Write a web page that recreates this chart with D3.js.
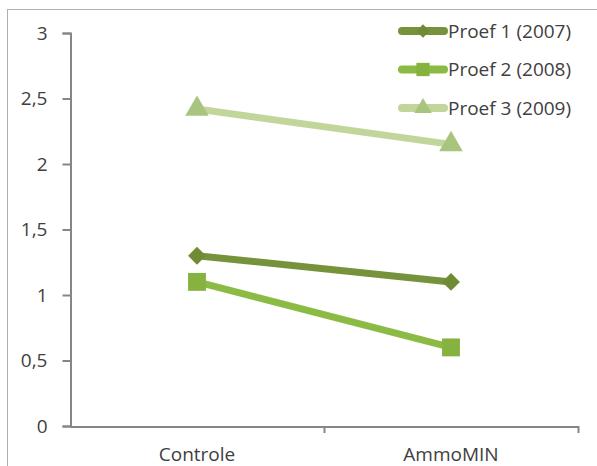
<!DOCTYPE html>
<html lang="nl">
    <head>
        <meta charset="utf-8">
        <title>Proeven Controle vs AmmoMIN</title>
        <script src="https://d3js.org/d3.v7.min.js"></script>
        <style type="text/css">
        body { margin: 0; background: #fff; }
        text { font-family: "Open Sans", sans-serif; fill: #404040; }
        </style>
    </head>
    <body>
        <script type="text/javascript">

//1. data
const categories = ["Controle", "AmmoMIN"];
const seriesNames = ["Proef 1 (2007)", "Proef 2 (2008)", "Proef 3 (2009)"];
const proef1 = [1.3, 1.1];
const proef2 = [1.1, 0.6];
const proef3 = [2.42, 2.15];
const yTicks = [0, 0.5, 1, 1.5, 2, 2.5, 3];
const yTickLabels = ["0", "0,5", "1", "1,5", "2", "2,5", "3"];

//2. consts
const svgWidth = 597;
const svgHeight = 466;
const plotLeft = 70, plotRight = 578, plotTop = 33, plotBottom = 426;
const fontSize = "19px";

const colors = ["#76923b", "#8cbb45", "#c2d69b"];
const markerColors = ["#6f8c35", "#86b33f", "#a9c47f"];
// diamond = square turned 45 degrees
const shapes = [d3.symbolSquare, d3.symbolSquare, d3.symbolTriangle];
const rotations = [45, 0, 0];
const shapeSizes = [160, 320, 240];

const series = seriesNames.map((name, i) => ({
    name: name,
    values: [proef1, proef2, proef3][i].map((v, j) => ({cat: categories[j], value: v})),
    color: colors[i],
    marker: markerColors[i],
    shape: shapes[i],
    rot: rotations[i],
    size: shapeSizes[i]
}));

//3. scales
const xScale = d3.scaleBand()
    .domain(categories)
    .range([plotLeft, plotRight]);

const yScale = d3.scaleLinear()
    .domain([0, 3])
    .range([plotBottom, plotTop]);

//4. svg
const svg = d3.select("body")
    .append("svg")
    .attr("width", svgWidth)
    .attr("height", svgHeight);

// outer frame (only top and left visible)
svg.append("rect")
    .attr("x", 7.5)
    .attr("y", 9.5)
    .attr("width", svgWidth + 20)
    .attr("height", svgHeight + 20)
    .attr("fill", "none")
    .attr("stroke", "#b0b0b0");

//5. axes
const leftAxis = d3.axisLeft(yScale)
    .tickValues(yTicks)
    .tickFormat((d, i) => yTickLabels[i])
    .tickSize(8)
    .tickPadding(15);

const yG = svg.append("g")
    .attr("transform", "translate(" + (plotLeft + 0.5) + ",0)")
    .call(leftAxis);

const bottomAxis = d3.axisBottom(xScale)
    .tickSize(0)
    .tickPadding(19);

const xG = svg.append("g")
    .attr("transform", "translate(0," + (plotBottom + 0.5) + ")")
    .call(bottomAxis);

// category boundary ticks
svg.append("g")
    .selectAll("line")
    .data(categories.map(c => xScale(c) + xScale.bandwidth()))
    .enter()
    .append("line")
    .attr("x1", d => Math.round(d) + 0.5)
    .attr("x2", d => Math.round(d) + 0.5)
    .attr("y1", plotBottom)
    .attr("y2", plotBottom + 7)
    .attr("stroke", "#868686")
    .attr("stroke-width", 2);

[yG, xG].forEach(g => {
    g.select(".domain").attr("stroke", "#868686").attr("stroke-width", 2);
    g.selectAll(".tick line").attr("stroke", "#868686").attr("stroke-width", 2);
    g.selectAll(".tick text")
        .attr("font-size", fontSize)
        .attr("font-family", "Open Sans, sans-serif")
        .attr("fill", "#404040");
});
xG.selectAll(".tick text").attr("dy", "0.8em");

//6. lines and markers
const line = d3.line()
    .x(d => xScale(d.cat) + xScale.bandwidth() / 2)
    .y(d => yScale(d.value));

const sg = svg.selectAll("g.series")
    .data(series)
    .enter()
    .append("g")
    .attr("class", "series");

sg.append("path")
    .attr("d", d => line(d.values))
    .attr("fill", "none")
    .attr("stroke", d => d.color)
    .attr("stroke-width", 7);

sg.each(function(s) {
    d3.select(this).selectAll("path.marker")
        .data(s.values)
        .enter()
        .append("path")
        .attr("class", "marker")
        .attr("transform", d => "translate(" + (xScale(d.cat) + xScale.bandwidth() / 2) + "," + yScale(d.value) + ") rotate(" + s.rot + ")")
        .attr("d", d3.symbol().type(s.shape).size(s.size))
        .attr("fill", s.marker);
});

//7. legend
const legend = svg.append("g")
    .selectAll("g")
    .data(series)
    .enter()
    .append("g")
    .attr("transform", (d, i) => "translate(402," + (31 + i * 38.5) + ")");

legend.append("line")
    .attr("x1", 0)
    .attr("x2", 42)
    .attr("stroke", d => d.color)
    .attr("stroke-width", 8)
    .attr("stroke-linecap", "round");

legend.append("path")
    .attr("transform", d => "translate(21,0) rotate(" + d.rot + ")")
    .attr("d", d => d3.symbol().type(d.shape).size(d.size * 0.55)())
    .attr("fill", d => d.marker);

legend.append("text")
    .attr("x", 46)
    .attr("dy", "0.35em")
    .attr("font-size", fontSize)
    .text(d => d.name);

</script>
</body>
</html>
